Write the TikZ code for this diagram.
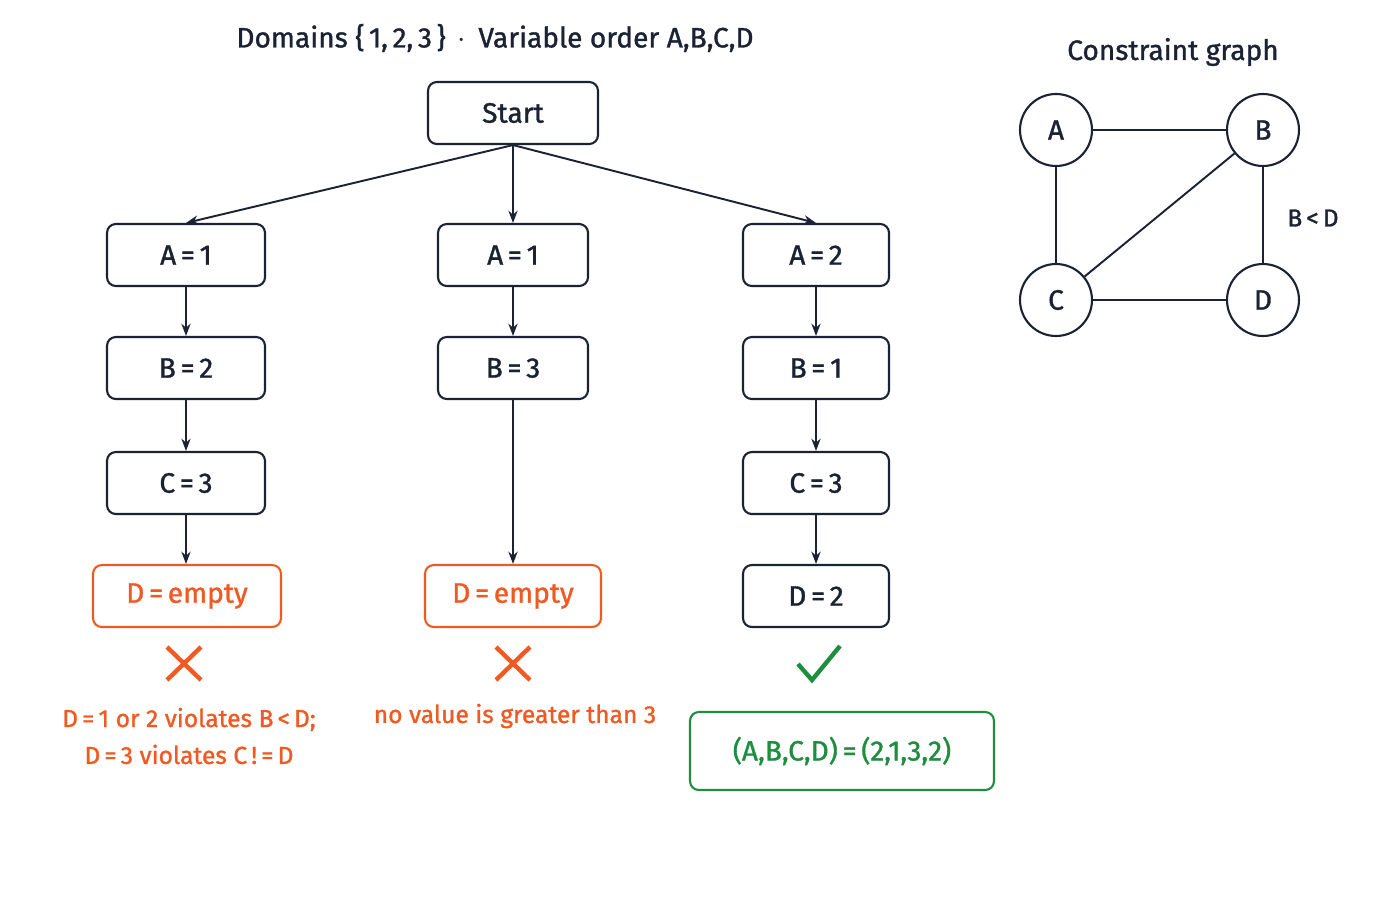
\documentclass[tikz,border=0pt]{standalone}
\usepackage{fontspec}
\setmainfont{Fira Sans}[BoldFont={Fira Sans},BoldFeatures={FakeBold=1.2}]
\usetikzlibrary{arrows.meta}
\definecolor{ink}{HTML}{1A2233}
\definecolor{bad}{HTML}{F05A22}
\definecolor{good}{HTML}{1E8E3E}
\tikzset{
  state/.style={draw=ink,very thick,rounded corners=5pt,minimum height=1.24cm,text=ink,font=\bfseries\fontsize{16}{19}\selectfont},
  fail/.style={state,draw=bad,text=bad},
  var/.style={draw=ink,very thick,circle,minimum size=1.44cm,text=ink,font=\bfseries\fontsize{16}{19}\selectfont},
  link/.style={-{Stealth[length=7pt]},ink,line width=1.1pt},
  note/.style={font=\bfseries\fontsize{14}{17}\selectfont}
}
\begin{document}
\begin{tikzpicture}[x=0.02cm,y=-0.02cm]
  \useasboundingbox (0,0) rectangle (1400,900);
  \node[text=ink,font=\bfseries\fontsize{16}{19}\selectfont] (title) at (495,38) {Domains \{\,1,\,2,\,3\,\} \,$\cdot$\, Variable order A,B,C,D};
  \node[state,minimum width=3.4cm] (start) at (513,113) {Start};
  % left branch
  \node[state,minimum width=3.16cm] (a1) at (186,255) {A\,=\,1};
  \node[state,minimum width=3.16cm] (b2) at (186,368) {B\,=\,2};
  \node[state,minimum width=3.16cm] (c3) at (186,483) {C\,=\,3};
  \node[fail,minimum width=3.76cm] (d1) at (187,596) {D\,=\,empty};
  % middle branch
  \node[state,minimum width=3cm] (a1m) at (513,255) {A\,=\,1};
  \node[state,minimum width=3cm] (b3) at (513,368) {B\,=\,3};
  \node[fail,minimum width=3.52cm] (d2) at (513,596) {D\,=\,empty};
  % right branch
  \node[state,minimum width=2.92cm] (a2) at (816,255) {A\,=\,2};
  \node[state,minimum width=2.92cm] (b1) at (816,368) {B\,=\,1};
  \node[state,minimum width=2.92cm] (c3r) at (816,483) {C\,=\,3};
  \node[state,minimum width=2.92cm] (d3) at (816,596) {D\,=\,2};
  \draw[link] (start.south) -- (a1.north);
  \draw[link] (start.south) -- (a1m.north);
  \draw[link] (start.south) -- (a2.north);
  \draw[link] (a1) -- (b2);
  \draw[link] (b2) -- (c3);
  \draw[link] (c3.south) -- (c3.south |- d1.north);
  \draw[link] (a1m) -- (b3);
  \draw[link] (b3) -- (d2);
  \draw[link] (a2) -- (b1);
  \draw[link] (b1) -- (c3r);
  \draw[link] (c3r) -- (d3);
  % marks
  \draw[bad,line width=2.5pt] (167,647) -- (201,680) (201,647) -- (167,680);
  \draw[bad,line width=2.5pt] (496,647) -- (530,680) (530,647) -- (496,680);
  \draw[good,line width=2.5pt] (798,664) -- (812,680) -- (840,646);
  \node[note,text=bad,align=center] (why1) at (189,736) {D\,=\,1 or 2 violates B\,<\,D;\\[4pt]D\,=\,3 violates C\,!\,=\,D};
  \node[note,text=bad] (why2) at (515,716) {no value is greater than 3};
  \node[state,draw=good,text=good,minimum width=6.08cm,minimum height=1.56cm] (res) at (842,751) {(A,B,C,D)\,=\,(2,1,3,2)};
  % constraint graph
  \node[text=ink,font=\bfseries\fontsize{16}{19}\selectfont] (gtitle) at (1173,52) {Constraint graph};
  \node[var] (A) at (1056,130) {A};
  \node[var] (B) at (1263,130) {B};
  \node[var] (C) at (1056,300) {C};
  \node[var] (D) at (1263,300) {D};
  \draw[ink,line width=1.1pt] (A) -- (B) (A) -- (C) (C) -- (D) (B) -- (D) (B) -- (C);
  \node[note,text=ink] (bd) at (1313,218) {B\,<\,D};
\end{tikzpicture}
\end{document}
